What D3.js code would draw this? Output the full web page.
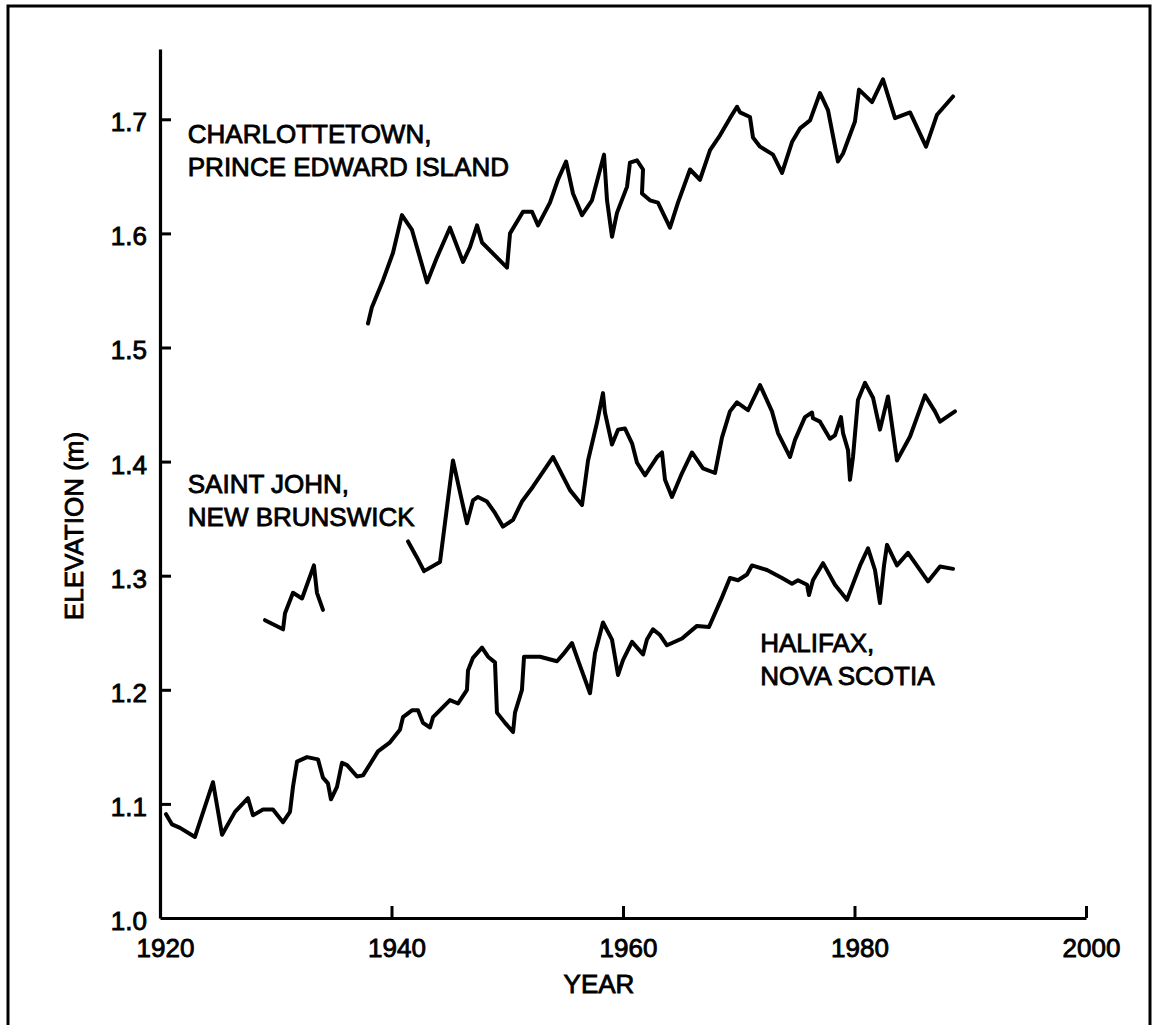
<!DOCTYPE html>
<html>
<head>
<meta charset="utf-8">
<script src="https://cdn.jsdelivr.net/npm/d3@7"></script>
<style>
  html, body { margin: 0; padding: 0; background: #fff; }
  svg { display: block; }
  text { font-family: "Liberation Sans", Arial, Helvetica, sans-serif; fill: #000; }
</style>
</head>
<body>
<svg id="chart" width="1154" height="1025"></svg>
<script>
// ---------- data ----------
const xTickValues = [1920, 1940, 1960, 1980, 2000];
const yTickValues = [1.1, 1.2, 1.3, 1.4, 1.5, 1.6, 1.7];
const xTickLabels = ["1920", "1940", "1960", "1980", "2000"];
const yTickLabels = ["1.0", "1.1", "1.2", "1.3", "1.4", "1.5", "1.6", "1.7"];
const yLabelValues = [1.0, 1.1, 1.2, 1.3, 1.4, 1.5, 1.6, 1.7];

const charlotteYears = [1937.97, 1938.3, 1939.27, 1940.13, 1940.9, 1941.77, 1943.07, 1943.93, 1945.05, 1946.18,
  1946.78, 1947.39, 1947.82, 1949.98, 1950.24, 1951.36, 1952.14, 1952.66, 1953.69, 1954.38,
  1955.08, 1955.68, 1956.46, 1957.32, 1958.36, 1958.62, 1959.05, 1959.48, 1960.35, 1960.6,
  1961.21, 1961.73, 1961.64, 1962.33, 1963.02, 1964.06, 1964.75, 1965.79, 1966.65, 1967.52,
  1968.38, 1969.24, 1969.85, 1970.11, 1970.97, 1971.23, 1971.84, 1972.96, 1973.74, 1974.6,
  1975.29, 1976.16, 1977.02, 1977.71, 1978.57, 1979.01, 1980.04, 1980.39, 1981.51, 1982.46,
  1983.5, 1984.8, 1986.18, 1987.13, 1988.51];
const charlotteValues = [1.521, 1.535, 1.559, 1.583, 1.616, 1.603, 1.557, 1.579, 1.605, 1.575,
  1.588, 1.607, 1.592, 1.570, 1.600, 1.619, 1.619, 1.607, 1.627, 1.647,
  1.663, 1.635, 1.616, 1.629, 1.669, 1.629, 1.597, 1.618, 1.641, 1.662,
  1.664, 1.656, 1.635, 1.629, 1.627, 1.605, 1.627, 1.656, 1.647, 1.673,
  1.686, 1.701, 1.711, 1.706, 1.702, 1.684, 1.676, 1.669, 1.653, 1.680,
  1.692, 1.699, 1.723, 1.708, 1.663, 1.670, 1.698, 1.726, 1.715, 1.735,
  1.701, 1.706, 1.676, 1.704, 1.720];

const saintJohnEarlyYears = [1929.07, 1930.63, 1930.8, 1931.49, 1932.27, 1933.3, 1933.56, 1934.08];
const saintJohnEarlyValues = [1.261, 1.253, 1.267, 1.285, 1.280, 1.309, 1.285, 1.270];

const saintJohnYears = [1941.43, 1942.2, 1942.81, 1944.19, 1945.31, 1945.92, 1946.52, 1947.04, 1947.47, 1948.25,
  1948.94, 1949.63, 1950.5, 1951.27, 1952.22, 1953.95, 1955.42, 1956.46, 1956.98, 1957.75,
  1958.27, 1958.44, 1959.05, 1959.57, 1960.17, 1960.78, 1961.21, 1961.9, 1962.94, 1963.37,
  1963.63, 1964.23, 1965.1, 1965.96, 1966.91, 1967.95, 1968.55, 1969.24, 1969.85, 1970.8,
  1971.84, 1972.87, 1973.39, 1974.43, 1974.86, 1975.72, 1976.33, 1976.41, 1977.02, 1977.88,
  1978.31, 1978.83, 1979.01, 1979.44, 1979.61, 1979.87, 1980.3, 1980.91, 1981.6, 1982.2,
  1982.89, 1983.67, 1984.8, 1986.09, 1986.95, 1987.39, 1988.68];
const saintJohnValues = [1.330, 1.316, 1.304, 1.312, 1.401, 1.373, 1.346, 1.366, 1.369, 1.365,
  1.355, 1.343, 1.349, 1.365, 1.378, 1.404, 1.375, 1.362, 1.401, 1.434,
  1.460, 1.443, 1.415, 1.428, 1.429, 1.416, 1.399, 1.388, 1.404, 1.408,
  1.384, 1.369, 1.390, 1.408, 1.394, 1.390, 1.421, 1.444, 1.452, 1.445,
  1.467, 1.444, 1.425, 1.404, 1.419, 1.439, 1.443, 1.438, 1.435, 1.420,
  1.423, 1.439, 1.425, 1.410, 1.384, 1.404, 1.454, 1.469, 1.456, 1.428,
  1.457, 1.401, 1.422, 1.458, 1.444, 1.435, 1.444];

const halifaxYears = [1920.52, 1921.04, 1921.73, 1923.02, 1924.58, 1925.36, 1926.48, 1927.6, 1928.03, 1928.9,
  1929.76, 1930.63, 1931.23, 1931.49, 1931.84, 1932.7, 1933.65, 1934.08, 1934.51, 1934.77,
  1935.29, 1935.72, 1936.16, 1937.02, 1937.54, 1938.83, 1939.87, 1940.73, 1940.99, 1941.77,
  1942.29, 1942.72, 1943.33, 1943.59, 1945.05, 1945.75, 1946.52, 1946.61, 1947.04, 1947.82,
  1948.34, 1948.94, 1949.11, 1949.81, 1950.5, 1950.67, 1951.27, 1951.45, 1952.83, 1954.3,
  1954.82, 1955.59, 1956.11, 1957.15, 1957.58, 1958.27, 1959.05, 1959.57, 1960.0, 1960.78,
  1961.73, 1962.07, 1962.59, 1963.2, 1963.8, 1965.1, 1966.39, 1967.43, 1968.55, 1969.24,
  1969.94, 1970.71, 1971.14, 1972.44, 1973.74, 1974.6, 1975.12, 1975.9, 1976.07, 1976.41,
  1977.28, 1978.31, 1979.35, 1980.48, 1981.17, 1981.77, 1982.2, 1982.55, 1982.81, 1983.67,
  1984.62, 1986.35, 1987.39, 1988.51];
const halifaxValues = [1.091, 1.082, 1.079, 1.071, 1.119, 1.073, 1.093, 1.105, 1.090, 1.095,
  1.095, 1.084, 1.093, 1.115, 1.137, 1.141, 1.139, 1.123, 1.118, 1.104,
  1.115, 1.136, 1.134, 1.124, 1.125, 1.146, 1.154, 1.165, 1.176, 1.182,
  1.182, 1.171, 1.167, 1.176, 1.191, 1.188, 1.200, 1.217, 1.228, 1.237,
  1.229, 1.224, 1.180, 1.171, 1.163, 1.180, 1.200, 1.229, 1.229, 1.225,
  1.231, 1.241, 1.226, 1.197, 1.232, 1.259, 1.244, 1.213, 1.226, 1.242,
  1.231, 1.244, 1.253, 1.248, 1.239, 1.245, 1.256, 1.255, 1.281, 1.298,
  1.296, 1.301, 1.309, 1.305, 1.298, 1.293, 1.296, 1.292, 1.283, 1.296,
  1.311, 1.292, 1.279, 1.309, 1.324, 1.305, 1.276, 1.309, 1.327, 1.309,
  1.320, 1.295, 1.308, 1.306];

const seriesLabels = [
  { lines: ["CHARLOTTETOWN,", "PRINCE EDWARD ISLAND"], year: 1922.4, value: 1.6795 },
  { lines: ["SAINT JOHN,", "NEW BRUNSWICK"], year: 1922.4, value: 1.3725 },
  { lines: ["HALIFAX,", "NOVA SCOTIA"], year: 1971.85, value: 1.2330 }
];
const xTitle = "YEAR";
const yTitle = "ELEVATION (m)";

// ---------- layout ----------
const svg = d3.select("#chart");
const x = d3.scaleLinear().domain([1920, 2000]).range([160, 1086]);
const y = d3.scaleLinear().domain([1.0, 1.7616]).range([918, 49]);
const FONT = 26;
const TEXT_STROKE = 0.85;

// frame
svg.append("rect")
  .attr("x", 8).attr("y", 6).attr("width", 1142).attr("height", 1030)
  .attr("fill", "none").attr("stroke", "#000").attr("stroke-width", 3);

// y axis
const yAxis = d3.axisLeft(y)
  .tickValues(yTickValues)
  .tickSizeInner(-11)
  .tickSizeOuter(0)
  .tickPadding(13)
  .tickFormat(() => "");
const gy = svg.append("g").attr("transform", `translate(${x(1920)},0)`).call(yAxis);
gy.select(".domain").attr("stroke", "#000").attr("stroke-width", 3.2);
gy.selectAll(".tick line").attr("stroke", "#000").attr("stroke-width", 3);

// y tick labels
svg.append("g").selectAll("text")
  .data(yLabelValues)
  .join("text")
  .attr("x", 147)
  .attr("y", d => y(d) + 12)
  .attr("text-anchor", "end")
  .attr("font-size", FONT)
  .attr("stroke", "#000").attr("stroke-width", TEXT_STROKE)
  .text((d, i) => yTickLabels[i]);

// x axis
const xAxis = d3.axisBottom(x)
  .tickValues(xTickValues)
  .tickSizeInner(-12)
  .tickSizeOuter(0)
  .tickPadding(21)
  .tickFormat((d, i) => xTickLabels[i]);
const gx = svg.append("g").attr("transform", `translate(0,${y(1.0)})`).call(xAxis);
gx.select(".domain").attr("stroke", "#000").attr("stroke-width", 3.2);
gx.selectAll(".tick line").attr("stroke", "#000").attr("stroke-width", 3);
gx.selectAll(".tick text")
  .attr("font-size", FONT)
  .attr("font-family", '"Liberation Sans", Arial, Helvetica, sans-serif')
  .attr("dx", 5)
  .attr("fill", "#000")
  .attr("stroke", "#000").attr("stroke-width", TEXT_STROKE);
gx.attr("font-size", FONT);

// axis titles
svg.append("text")
  .attr("x", 599).attr("y", 993)
  .attr("text-anchor", "middle")
  .attr("font-size", FONT)
  .attr("stroke", "#000").attr("stroke-width", TEXT_STROKE)
  .text(xTitle);
svg.append("text")
  .attr("transform", "translate(83,526) rotate(-90)")
  .attr("text-anchor", "middle")
  .attr("font-size", FONT)
  .attr("stroke", "#000").attr("stroke-width", TEXT_STROKE)
  .text(yTitle);

// series lines
const line = d3.line()
  .x(d => x(d[0]))
  .y(d => y(d[1]))
  .curve(d3.curveLinear);

const series = [
  d3.zip(charlotteYears, charlotteValues),
  d3.zip(saintJohnEarlyYears, saintJohnEarlyValues),
  d3.zip(saintJohnYears, saintJohnValues),
  d3.zip(halifaxYears, halifaxValues)
];
svg.append("g").selectAll("path")
  .data(series)
  .join("path")
  .attr("d", line)
  .attr("fill", "none")
  .attr("stroke", "#000")
  .attr("stroke-width", 4)
  .attr("stroke-linejoin", "round")
  .attr("stroke-linecap", "round");

// series labels
const lg = svg.append("g");
seriesLabels.forEach(s => {
  const t = lg.append("text")
    .attr("x", x(s.year))
    .attr("y", y(s.value))
    .attr("font-size", FONT)
    .attr("stroke", "#000").attr("stroke-width", TEXT_STROKE);
  s.lines.forEach((ln, i) => {
    t.append("tspan").attr("x", x(s.year)).attr("dy", i === 0 ? 0 : 33).text(ln);
  });
});
</script>
</body>
</html>
